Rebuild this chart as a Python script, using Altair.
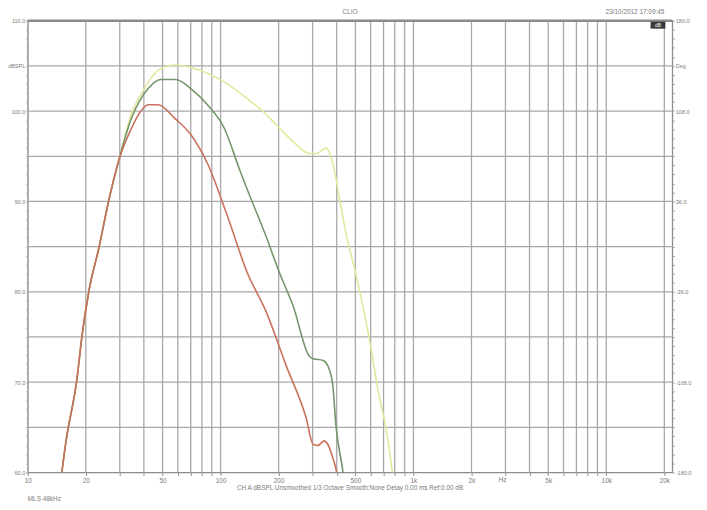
import altair as alt
import pandas as pd

# ---------------- data ----------------
shared_f = [14.6, 15.8, 18.0, 19.1, 20.8, 23.4, 26.3, 29.6]
shared_db = [58.0, 63.5, 70.4, 75.1, 80.2, 84.9, 90.1, 94.5]

red_f = [34.5, 38.3, 42.1, 47.4, 57.9, 70.0, 85.5, 108, 137, 173, 219, 278, 302, 320, 344, 360, 382, 400, 410]
red_db = [98.1, 99.9, 100.7, 100.7, 99.2, 97.4, 94.2, 88.5, 82.2, 77.7, 71.8, 66.0, 63.1, 63.0, 63.5, 63.1, 61.6, 60.0, 58.5]

green_f = [34.5, 42.1, 49.1, 58.6, 70.0, 85.5, 104.5, 126, 137, 173, 202, 238, 288, 302, 340, 360, 382, 396, 430, 440]
green_db = [99.2, 102.5, 103.5, 103.5, 102.5, 100.7, 98.1, 93.4, 91.4, 86.0, 82.1, 78.4, 72.9, 72.6, 72.4, 71.8, 69.6, 65.3, 60.2, 58.5]

yellow_f = [34.5, 39.7, 47.4, 57.9, 76.0, 104.5, 137, 167, 202, 247, 288, 313, 352, 382, 420, 446, 501, 564, 612, 657, 714, 775, 790]
yellow_db = [99.7, 102.3, 104.5, 105.1, 104.6, 103.2, 101.4, 99.9, 98.1, 96.3, 95.3, 95.3, 95.9, 94.2, 89.5, 86.5, 82.1, 77.0, 72.9, 69.0, 65.3, 60.2, 58.5]

series_names = ["yellow", "green", "red"]
series_colors = ["#e3e79c", "#74966b", "#c9715c"]

grid_f = [10, 20, 30, 40, 50, 60, 70, 80, 90,
          100, 200, 300, 400, 500, 600, 700, 800, 900,
          1000, 2000, 3000, 4000, 5000, 6000, 7000, 8000, 9000,
          10000, 20000]
x_label_vals = [10, 20, 50, 100, 200, 500, 1000, 2000, 5000, 10000, 20000]
x_label_txt = ["10", "20", "50", "100", "200", "500", "1k", "2k", "5k", "10k", "20k"]

grid_db = [65, 70, 75, 80, 85, 90, 95, 100, 105]
left_vals = [110, 105, 100, 90, 80, 70, 60]
left_txt = ["110.0", "dBSPL", "100.0", "90.0", "80.0", "70.0", "60.0"]
right_txt = ["180.0", "Deg", "108.0", "36.0", "-36.0", "-108.0", "-180.0"]

title_txt = "CLIO"
date_txt = "23/10/2012 17:09:45"
bottom_txt = "CH A dBSPL   Unsmoothed 1/3 Octave   Smooth:None   Delay 0.00 ms   Ref:0.00 dB"
file_txt = "MLS 48kHz"
hz_pos = [2900]

# ---------------- build table ----------------
rows = []
for name, fs, dbs in [("yellow", yellow_f, yellow_db), ("green", green_f, green_db), ("red", red_f, red_db)]:
    for f, d in zip(shared_f + fs, shared_db + dbs):
        rows.append({"series": name, "f": f, "db": d})
df = pd.DataFrame(rows)

W, H = 652, 457
FONT = "Liberation Sans"
TXT = "#7a7a7a"
GRID = "#a8a8a8"

x_scale = alt.Scale(type="log", domain=[10, 22000], nice=False)
y_scale = alt.Scale(domain=[60, 110], nice=False, zero=False)


def expr_map(vals, txts):
    e = "''"
    for v, t in reversed(list(zip(vals, txts))):
        e = f"datum.value == {v} ? '{t}' : ({e})"
    return e


x_axis = alt.Axis(values=grid_f, labelExpr=expr_map(x_label_vals, x_label_txt), grid=False,
                  tickSize=3, tickColor="#909090", labelOverlap=False, labelFlush=False,
                  labelPadding=2, title=None, domain=False, orient="bottom")
left_axis = alt.Axis(values=list(range(60, 111)), labelExpr=expr_map(left_vals, left_txt), grid=False,
                     tickSize=2, tickColor="#a0a0a0", labelOverlap=False, labelFlush=False,
                     labelPadding=1, title=None, domain=False, orient="left", labelFontSize=5.6)
right_axis = alt.Axis(values=list(range(60, 111)), labelExpr=expr_map(left_vals, right_txt), grid=False,
                      tickSize=2, tickColor="#a0a0a0", labelOverlap=False, labelFlush=False,
                      labelPadding=1, title=None, domain=False, orient="right", labelFontSize=5.6)

vgrid = alt.Chart(pd.DataFrame({"f": grid_f})).mark_rule(color=GRID, strokeWidth=1.3).encode(
    x=alt.X("f:Q", scale=x_scale, axis=x_axis))
hgrid = alt.Chart(pd.DataFrame({"db": grid_db})).mark_rule(color=GRID, strokeWidth=1.3).encode(
    y=alt.Y("db:Q", scale=y_scale, axis=left_axis))

lines = alt.Chart(df).mark_line(strokeWidth=1.6, clip=True, interpolate="monotone").encode(
    x=alt.X("f:Q", scale=x_scale, axis=x_axis),
    y=alt.Y("db:Q", scale=y_scale, axis=right_axis),
    color=alt.Color("series:N", scale=alt.Scale(domain=series_names, range=series_colors), legend=None),
    detail="series:N",
)

top_rule = alt.Chart(pd.DataFrame({"a": [0]})).mark_rule(color="#8a8a8a", strokeWidth=2.5).encode(
    x=alt.value(0), x2=alt.value(W), y=alt.value(0))


def text_layer(t, x, y, align="center", size=6.5, color=TXT):
    return alt.Chart(pd.DataFrame({"t": [t]})).mark_text(
        align=align, baseline="middle", fontSize=size, font=FONT, color=color).encode(
        x=alt.value(x), y=alt.value(y), text="t:N")


box = alt.Chart(pd.DataFrame({"a": [0]})).mark_rect(color="#3a3a3a").encode(
    x=alt.value(630), x2=alt.value(645), y=alt.value(1), y2=alt.value(8))
box_txt = text_layer("dB", 637.5, 4.5, size=5, color="#ffffff")

hz = alt.Chart(pd.DataFrame({"f": hz_pos, "t": ["Hz"]})).mark_text(
    fontSize=6.5, font=FONT, color=TXT, baseline="middle").encode(
    x=alt.X("f:Q", scale=x_scale, axis=x_axis), y=alt.value(H + 8), text="t:N")

chart = alt.layer(
    vgrid, hgrid, lines, top_rule, box, box_txt, hz,
    text_layer(title_txt, 326, -8.5),
    text_layer(date_txt, 644, -8.5, align="right"),
    text_layer(bottom_txt, 326, H + 16),
    text_layer(file_txt, 0, H + 27, align="left"),
).resolve_axis(y="independent").properties(
    width=W, height=H,
    autosize=alt.AutoSizeParams(type="none"),
    padding={"left": 20, "top": 10, "right": 27, "bottom": 32},
    background="#ffffff",
).configure_view(stroke="#8c8c8c", strokeWidth=1.3).configure_axis(
    labelFont=FONT, labelFontSize=6.5, labelColor=TXT)

chart.save("out.html", embed_options={"renderer": "svg", "actions": False})
